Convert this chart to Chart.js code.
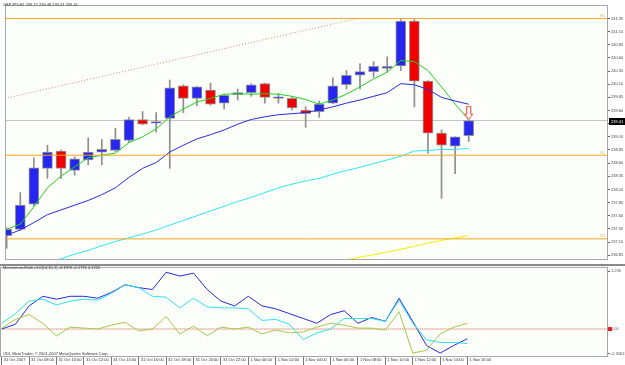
<!DOCTYPE html>
<html>
<head>
<meta charset="utf-8">
<script src="https://cdn.jsdelivr.net/npm/chart.js@4.4.0/dist/chart.umd.min.js"></script>
<style>
  html, body { margin: 0; padding: 0; background: #fff; }
  #wrap { position: relative; width: 625px; height: 365px; overflow: hidden; font-family: "Liberation Sans", Arial, sans-serif; }
  #main { position: absolute; left: 0; top: 0; }
  #mom { position: absolute; left: 0; top: 264px; }
  .txt { position: absolute; font-size: 4px; line-height: 5px; color: #333; white-space: nowrap; }
</style>
</head>
<body>
<div id="wrap">
  <canvas id="main" width="625" height="264"></canvas>
  <canvas id="mom" width="625" height="101"></canvas>
  <div class="txt" style="left:3px;top:2px">GBPJPY,H1 239.12 239.48 239.24 239.41</div>
  <div class="txt" style="left:3px;top:265px">Momentum-Multi v1.0(14,10,1) -0.1876 -0.1776 0.1255</div>
  <div class="txt" style="left:3px;top:351px">ODL MetaTrader, © 2001-2007 MetaQuotes Software Corp.</div>
</div>
<script>
// Bougies H1 GBPJPY, 31 Oct 06:00 -> 1 Nov 16:00
const opens  = [237.22, 237.34, 237.82, 238.50, 238.83, 238.46, 238.66, 238.81, 238.84, 239.03, 239.43, 239.36, 239.45, 240.07, 239.83, 239.99, 239.74, 239.90, 239.94, 240.11, 239.83, 239.83, 239.61, 239.58, 239.74, 240.09, 240.27, 240.34, 240.40, 240.45, 241.30, 240.16, 239.17, 238.92, 239.12];
const highs  = [237.37, 238.04, 238.70, 238.94, 238.85, 238.72, 239.08, 239.05, 239.26, 239.47, 239.58, 239.56, 240.18, 240.09, 240.06, 240.12, 239.91, 240.01, 240.11, 240.12, 239.92, 239.86, 239.67, 239.78, 240.22, 240.36, 240.49, 240.53, 240.62, 241.33, 241.33, 240.17, 239.23, 239.10, 239.42];
const lows   = [236.98, 237.32, 237.78, 238.31, 238.31, 238.37, 238.57, 238.57, 238.82, 238.99, 239.33, 239.19, 238.50, 239.56, 239.69, 239.70, 239.63, 239.80, 239.87, 239.74, 239.74, 239.61, 239.28, 239.47, 239.73, 240.01, 240.01, 240.23, 240.33, 240.36, 239.67, 238.79, 237.93, 238.40, 239.01];
const closes = [237.34, 237.80, 238.51, 238.81, 238.50, 238.68, 238.81, 238.86, 239.05, 239.43, 239.34, 239.39, 240.03, 239.83, 240.05, 239.72, 239.89, 239.94, 240.09, 239.85, 239.86, 239.65, 239.54, 239.72, 240.07, 240.27, 240.34, 240.44, 240.44, 241.30, 240.16, 239.17, 238.94, 239.10, 239.41];

// Moyennes mobiles
const maFast = [237.34, 237.44, 237.77, 238.13, 238.35, 238.53, 238.70, 238.75, 238.79, 238.99, 239.10, 239.25, 239.48, 239.63, 239.76, 239.83, 239.91, 239.92, 239.91, 239.92, 239.91, 239.87, 239.81, 239.72, 239.80, 239.91, 240.05, 240.20, 240.33, 240.55, 240.53, 240.36, 240.05, 239.72, 239.43];
const maMid  = [237.23, 237.33, 237.47, 237.62, 237.71, 237.80, 237.89, 238.00, 238.13, 238.33, 238.50, 238.61, 238.81, 238.94, 239.06, 239.14, 239.23, 239.34, 239.43, 239.48, 239.52, 239.54, 239.56, 239.61, 239.67, 239.74, 239.80, 239.87, 239.94, 240.11, 240.09, 240.00, 239.85, 239.78, 239.72];
const maSlow = [236.48, 236.56, 236.63, 236.70, 236.78, 236.87, 236.94, 237.03, 237.11, 237.18, 237.25, 237.33, 237.42, 237.51, 237.60, 237.69, 237.78, 237.87, 237.95, 238.04, 238.13, 238.20, 238.26, 238.31, 238.39, 238.46, 238.52, 238.59, 238.66, 238.73, 238.83, 238.84, 238.86, 238.86, 238.88];
const maLong = [null, null, null, null, null, null, null, null, null, null, null, null, null, null, null, null, null, null, null, null, null, null, null, null, 236.70, 236.76, 236.81, 236.86, 236.91, 236.96, 237.02, 237.08, 237.13, 237.18, 237.22];

// Momentum-Multi
const momBlue  = [0, 0.097, 0.465, 0.659, 0.601, 0.659, 0.659, 0.620, 0.736, 0.891, 0.833, 0.795, 1.143, 1.066, 1.124, 0.795, 0.562, 0.465, 0.659, 0.465, 0.407, 0.310, 0.213, 0.116, 0.291, 0.368, 0.116, 0.233, 0.155, 0.620, 0.155, -0.329, -0.484, -0.329, -0.194];
const momCyan  = [0.116, 0.310, 0.562, 0.601, 0.484, 0.562, 0.601, 0.581, 0.717, 0.891, 0.833, 0.659, 0.640, 0.426, 0.620, 0.446, 0.426, 0.426, 0.407, 0.174, 0.194, 0.097, -0.213, -0.078, 0, 0.213, 0.213, 0.213, 0.155, 0.581, 0.116, -0.213, -0.271, -0.271, -0.291];
const momGreen = [0.019, 0.194, 0.291, 0.116, -0.136, 0.039, 0.019, 0, 0.078, 0.136, -0.039, 0, 0.252, -0.097, 0.058, -0.136, 0.039, 0, 0.039, -0.097, -0.019, -0.078, -0.058, 0.039, 0.116, 0.078, 0.019, 0.019, -0.019, 0.349, -0.484, -0.426, -0.097, 0.039, 0.116];

// Niveaux, ligne de tendance, flèche
const levels = [241.35, 238.75, 237.16];
const levelNames = ['R1', 'S1', 'S2'];
const trendX = [-0.12, 25.8];
const trendY = [239.83, 241.35];
const arrowAt = [34, 239.55];

// Axes
const priceTicks = [241.35, 241.10, 240.85, 240.60, 240.35, 240.10, 239.85, 239.60, 239.35, 239.10, 238.85, 238.60, 238.35, 238.10, 237.85, 237.60, 237.35, 237.10, 236.85];
const timeTickIndex = [0, 2, 4, 6, 8, 10, 12, 14, 16, 18, 20, 22, 24, 26, 28, 30, 32, 34];
const timeTickLabels = ['31 Oct 2007', '31 Oct 08:00', '31 Oct 10:00', '31 Oct 12:00', '31 Oct 14:00', '31 Oct 16:00', '31 Oct 18:00', '31 Oct 20:00', '31 Oct 22:00', '1 Nov 00:00', '1 Nov 02:00', '1 Nov 04:00', '1 Nov 06:00', '1 Nov 08:00', '1 Nov 10:00', '1 Nov 12:00', '1 Nov 14:00', '1 Nov 16:00'];
const momTicks = [1.16, 0, -0.50];
const momTickLabels = ['1.236', '0.00', '-0.3563'];

const xMin = -0.124, xMax = 44.25;
const FONT = { size: 4, family: '"Liberation Sans", Arial, sans-serif' };
const idx = opens.map((_, i) => i);
const pts = arr => arr.map((v, i) => ({ x: i, y: v }));
const hline = v => [{ x: xMin - 1, y: v }, { x: xMax + 1, y: v }];

function line(data, color, extra) {
    return Object.assign({ type: 'line', data: data, borderColor: color, borderWidth: 1, pointRadius: 0, tension: 0, fill: false, order: 5 }, extra || {});
}

function makeArrow() {
    const c = document.createElement('canvas');
    c.width = 9; c.height = 15;
    const g = c.getContext('2d');
    g.fillStyle = '#fff';
    g.strokeStyle = '#F03A2A';
    g.lineWidth = 1;
    g.beginPath();
    g.moveTo(2.5, 0.5); g.lineTo(6.5, 0.5); g.lineTo(6.5, 8.5); g.lineTo(8.5, 8.5);
    g.lineTo(4.5, 14); g.lineTo(0.5, 8.5); g.lineTo(2.5, 8.5); g.closePath();
    g.fill(); g.stroke();
    return c;
}

// fond + cadre + étiquettes
const mainDeco = {
    id: 'mainDeco',
    beforeDraw(chart) {
        const { ctx, chartArea: a } = chart;
        ctx.save();
        ctx.fillStyle = '#fff';
        ctx.fillRect(0, 0, chart.width, chart.height);
        ctx.fillStyle = '#FCFEFA';
        ctx.fillRect(a.left, a.top, a.right - a.left, a.bottom - a.top);
        ctx.restore();
    },
    afterDraw(chart) {
        const { ctx, chartArea: a, scales } = chart;
        ctx.save();
        ctx.strokeStyle = '#A8A8A8';
        ctx.lineWidth = 1;
        ctx.strokeRect(a.left + 0.5, a.top + 0.5, a.right - a.left - 1, a.bottom - a.top);
        // noms des niveaux
        ctx.font = '4px "Liberation Sans", Arial, sans-serif';
        ctx.fillStyle = '#F0B040';
        ctx.textAlign = 'right';
        ctx.textBaseline = 'bottom';
        levels.forEach((v, k) => ctx.fillText(levelNames[k], a.right - 3, scales.y.getPixelForValue(v) - 0.5));
        // prix courant
        const yc = Math.round(scales.y.getPixelForValue(closes[closes.length - 1]));
        ctx.fillStyle = '#000';
        ctx.fillRect(a.right + 1, yc - 3, chart.width - a.right - 1, 7);
        ctx.fillStyle = '#fff';
        ctx.textAlign = 'left';
        ctx.textBaseline = 'middle';
        ctx.fillText(closes[closes.length - 1].toFixed(2), a.right + 3, yc + 0.5);
        ctx.restore();
    }
};

const momDeco = {
    id: 'momDeco',
    beforeDraw(chart) {
        const { ctx, chartArea: a } = chart;
        ctx.save();
        ctx.fillStyle = '#fff';
        ctx.fillRect(0, 0, chart.width, chart.height);
        ctx.fillStyle = '#FCFEFA';
        ctx.fillRect(a.left, a.top, a.right - a.left, a.bottom - a.top);
        ctx.restore();
    },
    afterDraw(chart) {
        const { ctx, chartArea: a, scales } = chart;
        ctx.save();
        ctx.strokeStyle = '#A8A8A8';
        ctx.lineWidth = 1;
        ctx.strokeRect(a.left + 0.5, a.top, a.right - a.left - 1, a.bottom - a.top - 0.5);
        ctx.fillStyle = '#8A8A8A';
        ctx.fillRect(a.left, 0, chart.width, 2);
        const y0 = scales.y.getPixelForValue(0);
        ctx.fillStyle = '#E02020';
        ctx.fillRect(a.right, y0 - 2, 4, 4);
        ctx.restore();
    }
};

new Chart(document.getElementById('main'), {
    type: 'bar',
    data: {
        datasets: [
            line(hline(levels[0]), '#F5A623', { order: 3 }),
            line(hline(levels[1]), '#F5A623', { order: 3 }),
            line(hline(levels[2]), '#F5A623', { order: 3 }),
            line(hline(closes[closes.length - 1]), '#C4C4C4', { order: 20 }),
            line(trendX.map((x, k) => ({ x: x, y: trendY[k] })), '#CF8E6E', { borderDash: [1, 2], order: 20 }),
            line(pts(maLong), '#F2F200', { spanGaps: false }),
            line(pts(maSlow), '#2EE6F2'),
            line(pts(maMid), '#2B2BD8'),
            line(pts(maFast), '#22D022'),
            {
                type: 'bar',
                data: idx.map(i => ({ x: i, y: [lows[i], highs[i]] })),
                backgroundColor: '#8E8E8E',
                borderWidth: 0,
                barThickness: 1,
                grouped: false,
                order: 11
            },
            {
                type: 'bar',
                data: idx.map(i => ({ x: i, y: [opens[i], closes[i]] })),
                backgroundColor: idx.map(i => closes[i] >= opens[i] ? '#2626F0' : '#F00000'),
                borderColor: '#959595',
                borderWidth: 1,
                borderSkipped: false,
                barThickness: 10,
                grouped: false,
                order: 10
            },
            {
                type: 'scatter',
                data: [{ x: arrowAt[0], y: arrowAt[1] }],
                pointStyle: makeArrow(),
                order: 0
            }
        ]
    },
    options: {
        responsive: false,
        animation: false,
        devicePixelRatio: 1,
        layout: { padding: 0 },
        plugins: { legend: { display: false }, tooltip: { enabled: false } },
        scales: {
            x: { type: 'linear', min: xMin, max: xMax, offset: false, display: false },
            y: {
                position: 'right',
                min: 236.777,
                max: 241.606,
                afterBuildTicks: s => { s.ticks = priceTicks.map(v => ({ value: v })); },
                afterFit: s => { s.width = 17; },
                ticks: { font: FONT, color: '#444', padding: 1, autoSkip: false, callback: v => v.toFixed(2) },
                grid: { drawOnChartArea: false, tickLength: 2, color: '#666' },
                border: { display: false }
            }
        }
    },
    plugins: [mainDeco]
});

new Chart(document.getElementById('mom'), {
    type: 'line',
    data: {
        datasets: [
            line(hline(0), '#E8A898', { borderDash: [1, 1], borderWidth: 2, order: 9 }),
            line(pts(momGreen), '#A6C84C'),
            line(pts(momCyan), '#2EE2F0'),
            line(pts(momBlue), '#2A2AD8')
        ]
    },
    options: {
        responsive: false,
        animation: false,
        devicePixelRatio: 1,
        layout: { padding: 0 },
        plugins: { legend: { display: false }, tooltip: { enabled: false } },
        scales: {
            x: {
                type: 'linear',
                min: xMin,
                max: xMax,
                offset: false,
                afterBuildTicks: s => { s.ticks = timeTickIndex.map(v => ({ value: v })); },
                afterFit: s => { s.height = 8; },
                ticks: {
                    font: FONT, color: '#333', align: 'start', labelOffset: 2, padding: -8,
                    maxRotation: 0, autoSkip: false,
                    callback: (v, k) => timeTickLabels[k]
                },
                grid: { drawOnChartArea: false, tickLength: 8, color: '#777' },
                border: { display: false }
            },
            y: {
                position: 'right',
                min: -0.562,
                max: 1.240,
                afterBuildTicks: s => { s.ticks = momTicks.map(v => ({ value: v })); },
                afterFit: s => { s.width = 17; },
                ticks: { font: FONT, color: '#555', padding: 1, autoSkip: false, callback: (v, k) => momTickLabels[k] },
                grid: { drawOnChartArea: false, tickLength: 2, color: '#666' },
                border: { display: false }
            }
        }
    },
    plugins: [momDeco]
});
</script>
</body>
</html>
